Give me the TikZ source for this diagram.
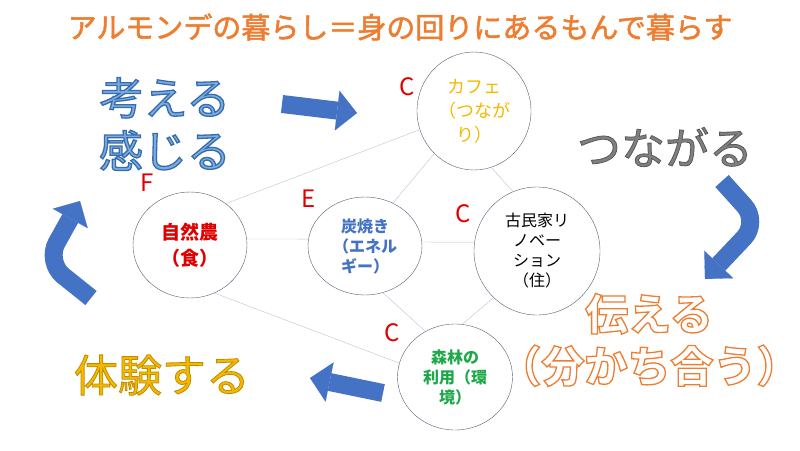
\documentclass[tikz,border=0pt]{standalone}
\usepackage{fontspec}
\setmainfont{Noto Sans CJK JP}
\usetikzlibrary{arrows.meta,shapes.geometric}

\definecolor{titleorange}{HTML}{ED7D31}
\definecolor{arrowblue}{HTML}{4472C4}
\definecolor{ringgray}{HTML}{4F5F73}
\definecolor{linkgray}{HTML}{BCC3CE}
\definecolor{letterred}{HTML}{E00000}
\definecolor{cafeyellow}{HTML}{F5B800}
\definecolor{forestgreen}{HTML}{1EA84A}
\definecolor{thinkblue}{HTML}{7AAEDF}
\definecolor{gold}{HTML}{F5B800}

% outlined text: stroke colour (r g b), stroke width, text
\newcommand{\olt}[3]{\special{pdf:literal direct #2 w #1 RG 2 Tr}#3\special{pdf:literal direct 0 Tr}}

\begin{document}
\begin{tikzpicture}[x=1pt, y=-1pt, thick,
  circ/.style={draw=ringgray, ellipse, thin, inner sep=0pt, align=center},
  link/.style={draw=linkgray, thin},
  letter/.style={text=letterred, inner sep=0pt, font=\fontsize{24}{24}\selectfont},
  big/.style={align=center, inner sep=0pt, font=\fontsize{44}{53}\selectfont},
  barrow/.style={draw=arrowblue, line width=18pt, -{Triangle[width=40pt,length=20pt,line width=0.1pt]}}]
  \useasboundingbox (0,0) rectangle (800,450);

  \node[text=titleorange, font=\fontsize{29}{29}\selectfont] (title) at (400,27) {\olt{0.93 0.49 0.19}{0.5}{アルモンデの暮らし＝身の回りにあるもんで暮らす}};

  \node[circ, minimum width=114pt, minimum height=118pt, text=cafeyellow, font=\fontsize{18}{24}\selectfont] (cafe) at (474,111) {カフェ\\（つなが\\り）};
  \node[circ, minimum width=114pt, minimum height=106pt, text=letterred, font=\fontsize{19}{26}\selectfont\bfseries] (nou) at (190,245) {自然農\\（食）};
  \node[circ, minimum width=114pt, minimum height=98pt, text=arrowblue, font=\fontsize{16}{20}\selectfont\bfseries] (sumi) at (365,246) {炭焼き\\（エネル\\ギー）};
  \node[circ, minimum width=126pt, minimum height=128pt, font=\fontsize{16}{20}\selectfont] (kominka) at (537,251) {古民家リ\\ノベー\\ション\\（住）};
  \node[circ, minimum width=115pt, minimum height=106pt, text=forestgreen, font=\fontsize{16}{20}\selectfont\bfseries] (shinrin) at (455,377) {森林の\\利用（環\\境）};

  \draw[link] (nou.49) -- (cafe.199);
  \draw[link] (nou.6) -- (sumi.173);
  \draw[link] (nou.297) -- (shinrin.166);
  \draw[link] (sumi.57) -- (cafe.227);
  \draw[link] (cafe.287) -- (kominka.112);
  \draw[link] (sumi.4) -- (kominka.172);
  \draw[link] (sumi.291) -- (shinrin.123);
  \draw[link] (kominka.227) -- (shinrin.82);

  \node[letter] (c1) at (407,87) {C};
  \node[letter] (f) at (147,183) {F};
  \node[letter] (e) at (309,199) {E};
  \node[letter] (c2) at (463,214) {C};
  \node[letter] (c3) at (392,333) {C};

  \node[big, text=thinkblue] (kangae) at (165,124) {\olt{0.22 0.42 0.68}{1.3}{考える}\\\olt{0.22 0.42 0.68}{1.3}{感じる}};
  \node[big, text=gray] (tsunagaru) at (665,147) {\olt{0.35 0.35 0.35}{0.8}{つながる}};
  \node[big, text=white, font=\fontsize{43}{52}\selectfont\bfseries] (tsutae) at (649,340) {\olt{0.93 0.49 0.19}{1.3}{伝える}\\\olt{0.93 0.49 0.19}{1.3}{（分かち合う）}};
  \node[big, text=gold] (taiken) at (162,375) {\olt{0.75 0.55 0}{0.8}{体験する}};

  \coordinate (r1) at (282,104);
  \coordinate (r2) at (357,113);
  \coordinate (d1) at (722,181);
  \coordinate (d2) at (759,222);
  \coordinate (d3) at (705,279);
  \coordinate (l1) at (383,393);
  \coordinate (l2) at (310,378);
  \coordinate (u1) at (91,298);
  \coordinate (u2) at (46,262);
  \coordinate (u3) at (80,201);

  \draw[barrow] (r1) -- (r2);
  \draw[barrow, rounded corners=22pt] (d1) -- (d2) -- (d3);
  \draw[barrow] (l1) -- (l2);
  \draw[barrow, rounded corners=22pt] (u1) -- (u2) -- (u3);
\end{tikzpicture}
\end{document}
